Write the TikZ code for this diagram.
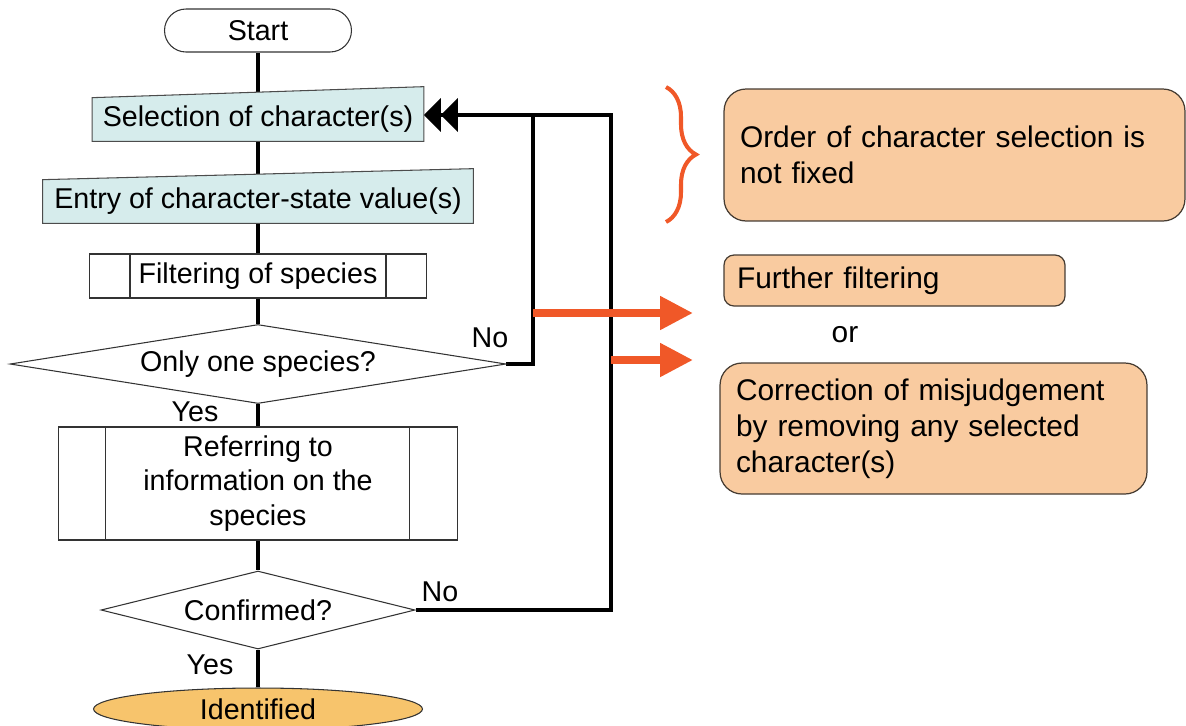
\documentclass[tikz,border=0pt]{standalone}
\usepackage{fontspec}
\setmainfont{Liberation Sans}
\usetikzlibrary{shapes.geometric,arrows.meta,calc,decorations.pathreplacing}
\pgfdeclarelayer{background}
\pgfsetlayers{background,main}
\definecolor{cyanbox}{RGB}{214,236,236}
\definecolor{peach}{RGB}{249,203,160}
\definecolor{idfill}{RGB}{247,196,108}
\definecolor{accent}{RGB}{240,88,40}
\definecolor{edge}{RGB}{70,60,50}
\begin{document}
\begin{tikzpicture}[x=0.02cm,y=-0.02cm,
  every node/.style={font=\fontsize{16.3}{19.5}\selectfont, inner sep=0pt},
  conn/.style={line width=2.3pt, black},
  plain/.style={draw=black!80, line width=0.6pt, fill=white},
  thinline/.style={draw=black!80, line width=0.6pt},
  skewbox/.style={fill=cyanbox, draw=black!70, line width=0.6pt},
  note/.style={draw=edge, line width=0.7pt, fill=peach, font=\fontsize{17}{20.5}\selectfont, align=left},
  oarrow/.style={line width=4.5pt, accent, -{Triangle[length=0.66cm,width=0.64cm]}},
  dbl/.style={-{Triangle[length=0.34cm,width=0.66cm]Triangle[length=0.34cm,width=0.66cm]}},
]
\useasboundingbox (0,0) rectangle (1186,725);

% flow nodes
\node[plain, rounded corners=0.43cm, minimum width=3.74cm, minimum height=0.86cm] (start) at (258,30.5) {Start};
\node[minimum width=6.62cm, minimum height=0.86cm] (sel) at (258,119.5) {Selection of character(s)};
\node[minimum width=8.6cm, minimum height=0.86cm] (ent) at (258,201.5) {Entry of character-state value(s)};
\node[plain, minimum width=6.74cm, minimum height=0.88cm] (filt) at (258,276) {Filtering of species};
\draw[thinline] ($(filt.north west)+(41,0)$) -- ($(filt.south west)+(41,0)$);
\draw[thinline] ($(filt.north east)+(-41,0)$) -- ($(filt.south east)+(-41,0)$);
\node[diamond, plain, aspect=6.28, minimum width=9.92cm, minimum height=1.58cm] (d1) at (258,364) {Only one species?};
\node[plain, minimum width=8cm, minimum height=2.26cm, align=center] (ref) at (258,483.5) {Referring to\\information on the\\species};
\draw[thinline] ($(ref.north west)+(48,0)$) -- ($(ref.south west)+(48,0)$);
\draw[thinline] ($(ref.north east)+(-49,0)$) -- ($(ref.south east)+(-49,0)$);
\node[diamond, plain, aspect=4.03, minimum width=6.28cm, minimum height=1.56cm] (d2) at (258,610) {Confirmed?};
\node[ellipse, draw=black!80, line width=0.6pt, fill=idfill, minimum width=6.58cm, minimum height=0.84cm] (id) at (258,709) {Identified};

% branch labels
\node (no1) at (490,338) {No};
\node (yes1) at (195,412) {Yes};
\node (no2) at (440,592) {No};
\node (yes2) at (210,665) {Yes};

% notes
\node[note, rounded corners=0.44cm, minimum height=2.64cm, text width=8.58cm, inner xsep=0.32cm] (n1) at (954.5,155) {Order of character selection is\\not fixed};
\node[note, rounded corners=0.2cm, minimum height=1.02cm, text width=6.3cm, inner xsep=0.26cm] (n2) at (894.5,280.5) {Further filtering};
\node[font=\fontsize{17}{20.5}\selectfont] (or) at (845,335) {or};
\node[note, rounded corners=0.44cm, minimum height=2.62cm, text width=7.9cm, inner xsep=0.32cm] (n3) at (933.5,428.5) {Correction of misjudgement\\by removing any selected\\character(s)};

% loop junctions and accent arrow ends
\coordinate (j1) at (533,115);
\coordinate (j2) at (611,115);
\coordinate (o1s) at (533,313);
\coordinate (o1e) at (693,313);
\coordinate (o2s) at (611,360);
\coordinate (o2e) at (693,360);
\coordinate (brtop) at (666,87);
\coordinate (brbot) at (666,222);

\begin{pgfonlayer}{background}
\draw[conn] (start) -- (sel) -- (ent) -- (filt) -- (d1) -- (ref) -- (d2) -- (id);
\draw[conn] (d1.east) -| (j1);
\draw[conn, dbl] (d2.east) -| (j2) -- (sel.east |- j2);
\draw[skewbox] (sel.south west) -- (sel.south east) -- ($(sel.north east)+(0,-11)$) -- (sel.north west) -- cycle;
\draw[skewbox] (ent.south west) -- (ent.south east) -- ($(ent.north east)+(0,-11)$) -- (ent.north west) -- cycle;
\end{pgfonlayer}

\draw[oarrow] (o1s) -- (o1e);
\draw[oarrow] (o2s) -- (o2e);
\draw[accent, line width=2.3pt, decorate, decoration={brace, amplitude=0.6cm, aspect=0.5}] (brtop) -- (brbot);
\end{tikzpicture}
\end{document}
